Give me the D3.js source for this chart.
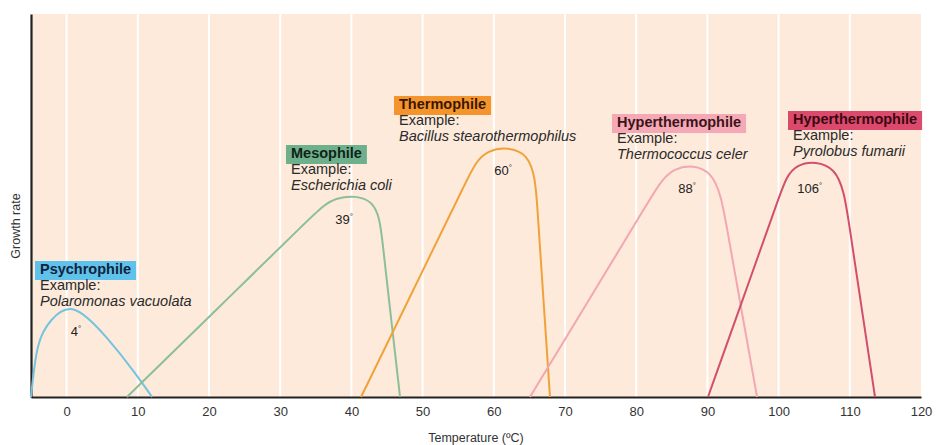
<!DOCTYPE html>
<html>
<head>
<meta charset="utf-8">
<script src="https://cdn.jsdelivr.net/npm/d3@7"></script>
<style>
  body { margin: 0; background: #fff; }
  text { font-family: "Liberation Sans", Arial, sans-serif; }
</style>
</head>
<body>
<script>
"use strict";
// temperature ticks along the x axis
const tempTicks = [0, 10, 20, 30, 40, 50, 60, 70, 80, 90, 100, 110, 120];

// growth curves as spline control points, [temperature, growth rate]
const psychrophile = [[-5, 0], [-4.16, 14.9], [-2.33, 20.1], [0.76, 25.3], [5.81, 15.4], [9.75, 6.0], [12.0, 0]];
const mesophile = [[8.48, 0], [20.98, 22.7], [34.65, 47.5], [37.44, 52.6], [43.62, 52.6],
  [44.34, 41.0], [45.6, 20.1], [46.83, 0]];
const thermophile = [[41.35, 0], [49.92, 32.6], [56.42, 57.4], [58.48, 65.3], [65.55, 65.3],
  [66.11, 49.6], [66.98, 25.3], [67.89, 0]];
const hyper1 = [[65.08, 0], [73.51, 25.8], [82.28, 52.7], [84.83, 60.6], [91.17, 60.6],
  [92.67, 44.9], [95.04, 20.1], [96.97, 0]];
const hyper2 = [[90.08, 0], [94.93, 25.3], [100.38, 53.8], [101.88, 61.6], [108.57, 61.6],
  [109.83, 46.0], [111.92, 20.1], [113.54, 0]];

const groups = ["Psychrophile", "Mesophile", "Thermophile", "Hyperthermophile", "Hyperthermophile"];
const examples = ["Polaromonas vacuolata", "Escherichia coli", "Bacillus stearothermophilus", "Thermococcus celer", "Pyrolobus fumarii"];
const optima = ["4", "39", "60", "88", "106"];
const series = [psychrophile, mesophile, thermophile, hyper1, hyper2];

// styling / layout
const lineColors = ["#74c3df", "#8cbf98", "#f0a23a", "#f2a7b2", "#d24f6c"];
const boxColors = ["#5ec2ea", "#6fb08c", "#f3952c", "#f5a9b6", "#db4a6c"];
const titleColors = ["#12233f", "#10241a", "#3a1600", "#3a1418", "#3a0812"];
const labelPos = [[40, 274], [291, 158], [399, 109], [617, 127], [793, 124]];
const optOffset = [[4, 36], [-11, 28], [-5, 28], [-6, 28], [-6, 32]];

const width = 936, height = 445;
const svg = d3.select("body").append("svg")
  .attr("width", width)
  .attr("height", height);

const x = d3.scaleLinear().domain([-5, 120]).range([31, 921]);
const y = d3.scaleLinear().domain([0, 100]).range([397, 14]);

// plot background
svg.append("rect")
  .attr("x", x(-5)).attr("y", y(100))
  .attr("width", x(120) - x(-5)).attr("height", y(0) - y(100))
  .attr("fill", "#fdeadb");

// white grid lines
svg.append("g")
  .selectAll("line")
  .data(tempTicks.slice(0, -1))
  .join("line")
  .attr("x1", d => x(d)).attr("x2", d => x(d))
  .attr("y1", y(100)).attr("y2", y(0))
  .attr("stroke", "#fff")
  .attr("stroke-width", 2);

// x axis
const xAxis = svg.append("g")
  .attr("transform", `translate(0, ${y(0)})`)
  .call(d3.axisBottom(x).tickValues(tempTicks).tickSize(0).tickPadding(10));
xAxis.select(".domain").attr("stroke", "#222").attr("stroke-width", 2.2);
xAxis.selectAll("text")
  .attr("font-size", 13)
  .attr("fill", "#333")
  .attr("font-family", "'Liberation Sans', Arial, sans-serif");

// y axis (line only)
const yAxis = svg.append("g")
  .attr("transform", `translate(${x(-5)}, 0)`)
  .call(d3.axisLeft(y).tickValues([]).tickSize(0));
yAxis.select(".domain").attr("stroke", "#222").attr("stroke-width", 2.2);

svg.append("text")
  .attr("x", 476).attr("y", 442)
  .attr("text-anchor", "middle")
  .attr("font-size", 12.5)
  .attr("fill", "#333")
  .text("Temperature (ºC)");

svg.append("text")
  .attr("transform", "translate(20, 226) rotate(-90)")
  .attr("text-anchor", "middle")
  .attr("font-size", 12.5)
  .attr("fill", "#333")
  .text("Growth rate");

// curves
const line = d3.line()
  .x(d => x(d[0]))
  .y(d => y(d[1]))
  .curve(d3.curveBasis);

svg.append("g")
  .selectAll("path")
  .data(series)
  .join("path")
  .attr("d", line)
  .attr("fill", "none")
  .attr("stroke", (d, i) => lineColors[i])
  .attr("stroke-width", 2);

// optimum labels, under the top of each curve
series.forEach((s, i) => {
  const top = d3.max(s, d => d[1]);
  const tops = s.filter(d => d[1] >= top - 0.01);
  const t = svg.append("text")
    .attr("x", x(d3.mean(tops, d => d[0])) + optOffset[i][0])
    .attr("y", y(top) + optOffset[i][1])
    .attr("text-anchor", "middle")
    .attr("font-size", 13)
    .attr("fill", "#222");
  t.append("tspan").text(optima[i]);
  t.append("tspan").attr("font-size", 8).attr("dy", -5).text("°");
});

// group labels
groups.forEach((g, i) => {
  const [lx, ly] = labelPos[i];
  const grp = svg.append("g");
  const rect = grp.append("rect").attr("fill", boxColors[i]);
  const title = grp.append("text")
    .attr("x", lx).attr("y", ly)
    .attr("font-size", 14.5)
    .attr("font-weight", "bold")
    .attr("fill", titleColors[i])
    .text(g);
  const bb = title.node().getBBox();
  rect.attr("x", lx - 5).attr("y", ly - 13)
    .attr("width", bb.width + 10).attr("height", 19);
  grp.append("text")
    .attr("x", lx).attr("y", ly + 16)
    .attr("font-size", 14.5)
    .attr("fill", "#2a2a2a")
    .text("Example:");
  grp.append("text")
    .attr("x", lx).attr("y", ly + 32)
    .attr("font-size", 14.5)
    .attr("font-style", "italic")
    .attr("fill", "#2a2a2a")
    .text(examples[i]);
});
</script>
</body>
</html>
